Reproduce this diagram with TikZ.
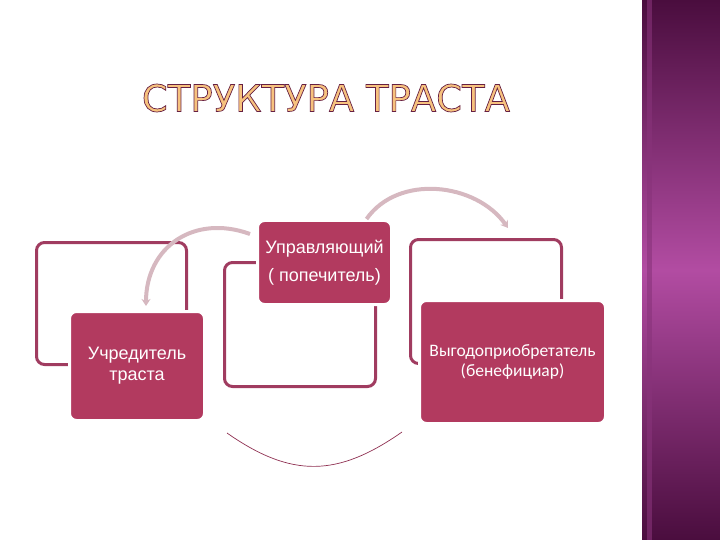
\documentclass[tikz,border=0pt]{standalone}
\usepackage{fontspec}
\setmainfont{Liberation Sans}
\newfontfamily\titlefont{DejaVu Sans}
\newfontfamily\benfont{Carlito}
\usetikzlibrary{arrows.meta}

\definecolor{berry}{HTML}{B23A5F}
\definecolor{framecol}{HTML}{A03C60}
\definecolor{arcgray}{HTML}{D6B8C0}
\definecolor{arcdark}{HTML}{8E2E50}
\definecolor{bandtop}{HTML}{4A0D3E}
\definecolor{bandmid}{HTML}{B24CA2}
\definecolor{titlefill}{HTML}{F7C27E}
\newcommand\outlined[1]{\special{pdf:literal direct 2 Tr 0.7 w 0.40 0.12 0.26 RG}#1\special{pdf:literal direct 0 Tr}}

\begin{document}
\begin{tikzpicture}[x=1pt, y=-1pt, >={Stealth[length=7pt, width=9pt]},
    every node/.style={align=center, inner sep=0pt},
    frame/.style={draw=framecol, line width=3pt, rounded corners=8pt},
    role/.style={fill=berry, draw=white, line width=3pt, rounded corners=7pt, text=white},
    arc/.style={->, draw=arcgray, line width=4pt}]
    \useasboundingbox (0,0) rectangle (720,540);
    \shade[top color=bandtop, bottom color=bandtop, middle color=bandmid] (642,0) rectangle (720,540);
    \fill[bandmid!60!bandtop, opacity=0.6] (647,0) rectangle (652,540);

    \node[text=titlefill, font=\titlefont\fontsize{37}{44}\selectfont] (title) at (326,98) {\outlined{СТРУКТУРА ТРАСТА}};

    \node[frame, minimum width=150, minimum height=122] (founderframe) at (111.5,303.5) {};
    \node[frame, minimum width=151, minimum height=124] (managerframe) at (300,324.5) {};
    \node[frame, minimum width=151, minimum height=124] (benframe) at (486,301.5) {};

    \node[role, minimum width=135, minimum height=109, font=\fontsize{18}{21}\selectfont] (founder) at (137,366) {Учредитель\\траста};
    \node[role, minimum width=134, minimum height=84, font=\fontsize{18}{28}\selectfont] (manager) at (324.5,262.5) {Управляющий\\( попечитель)};
    \node[role, minimum width=186, minimum height=123, font=\benfont\fontsize{17.5}{20}\selectfont] (ben) at (512.5,362) {Выгодоприобретатель\\(бенефициар)};

    \coordinate (a1) at (250,234);
    \coordinate (a2) at ([xshift=42pt]manager.north);
    \coordinate (b1) at (227,433);
    \coordinate (b2) at (402,432);

    \draw[arc] (a1) to[out=160, in=90, looseness=1.2] ([xshift=9pt, yshift=4pt]founder.north);
    \draw[arc] (a2) to[out=55, in=125] ([xshift=22pt, yshift=10pt]benframe.north);
    \draw[arcdark, line width=0.7pt] (b1) to[out=-35, in=-145, looseness=1.15] (b2);
\end{tikzpicture}
\end{document}
